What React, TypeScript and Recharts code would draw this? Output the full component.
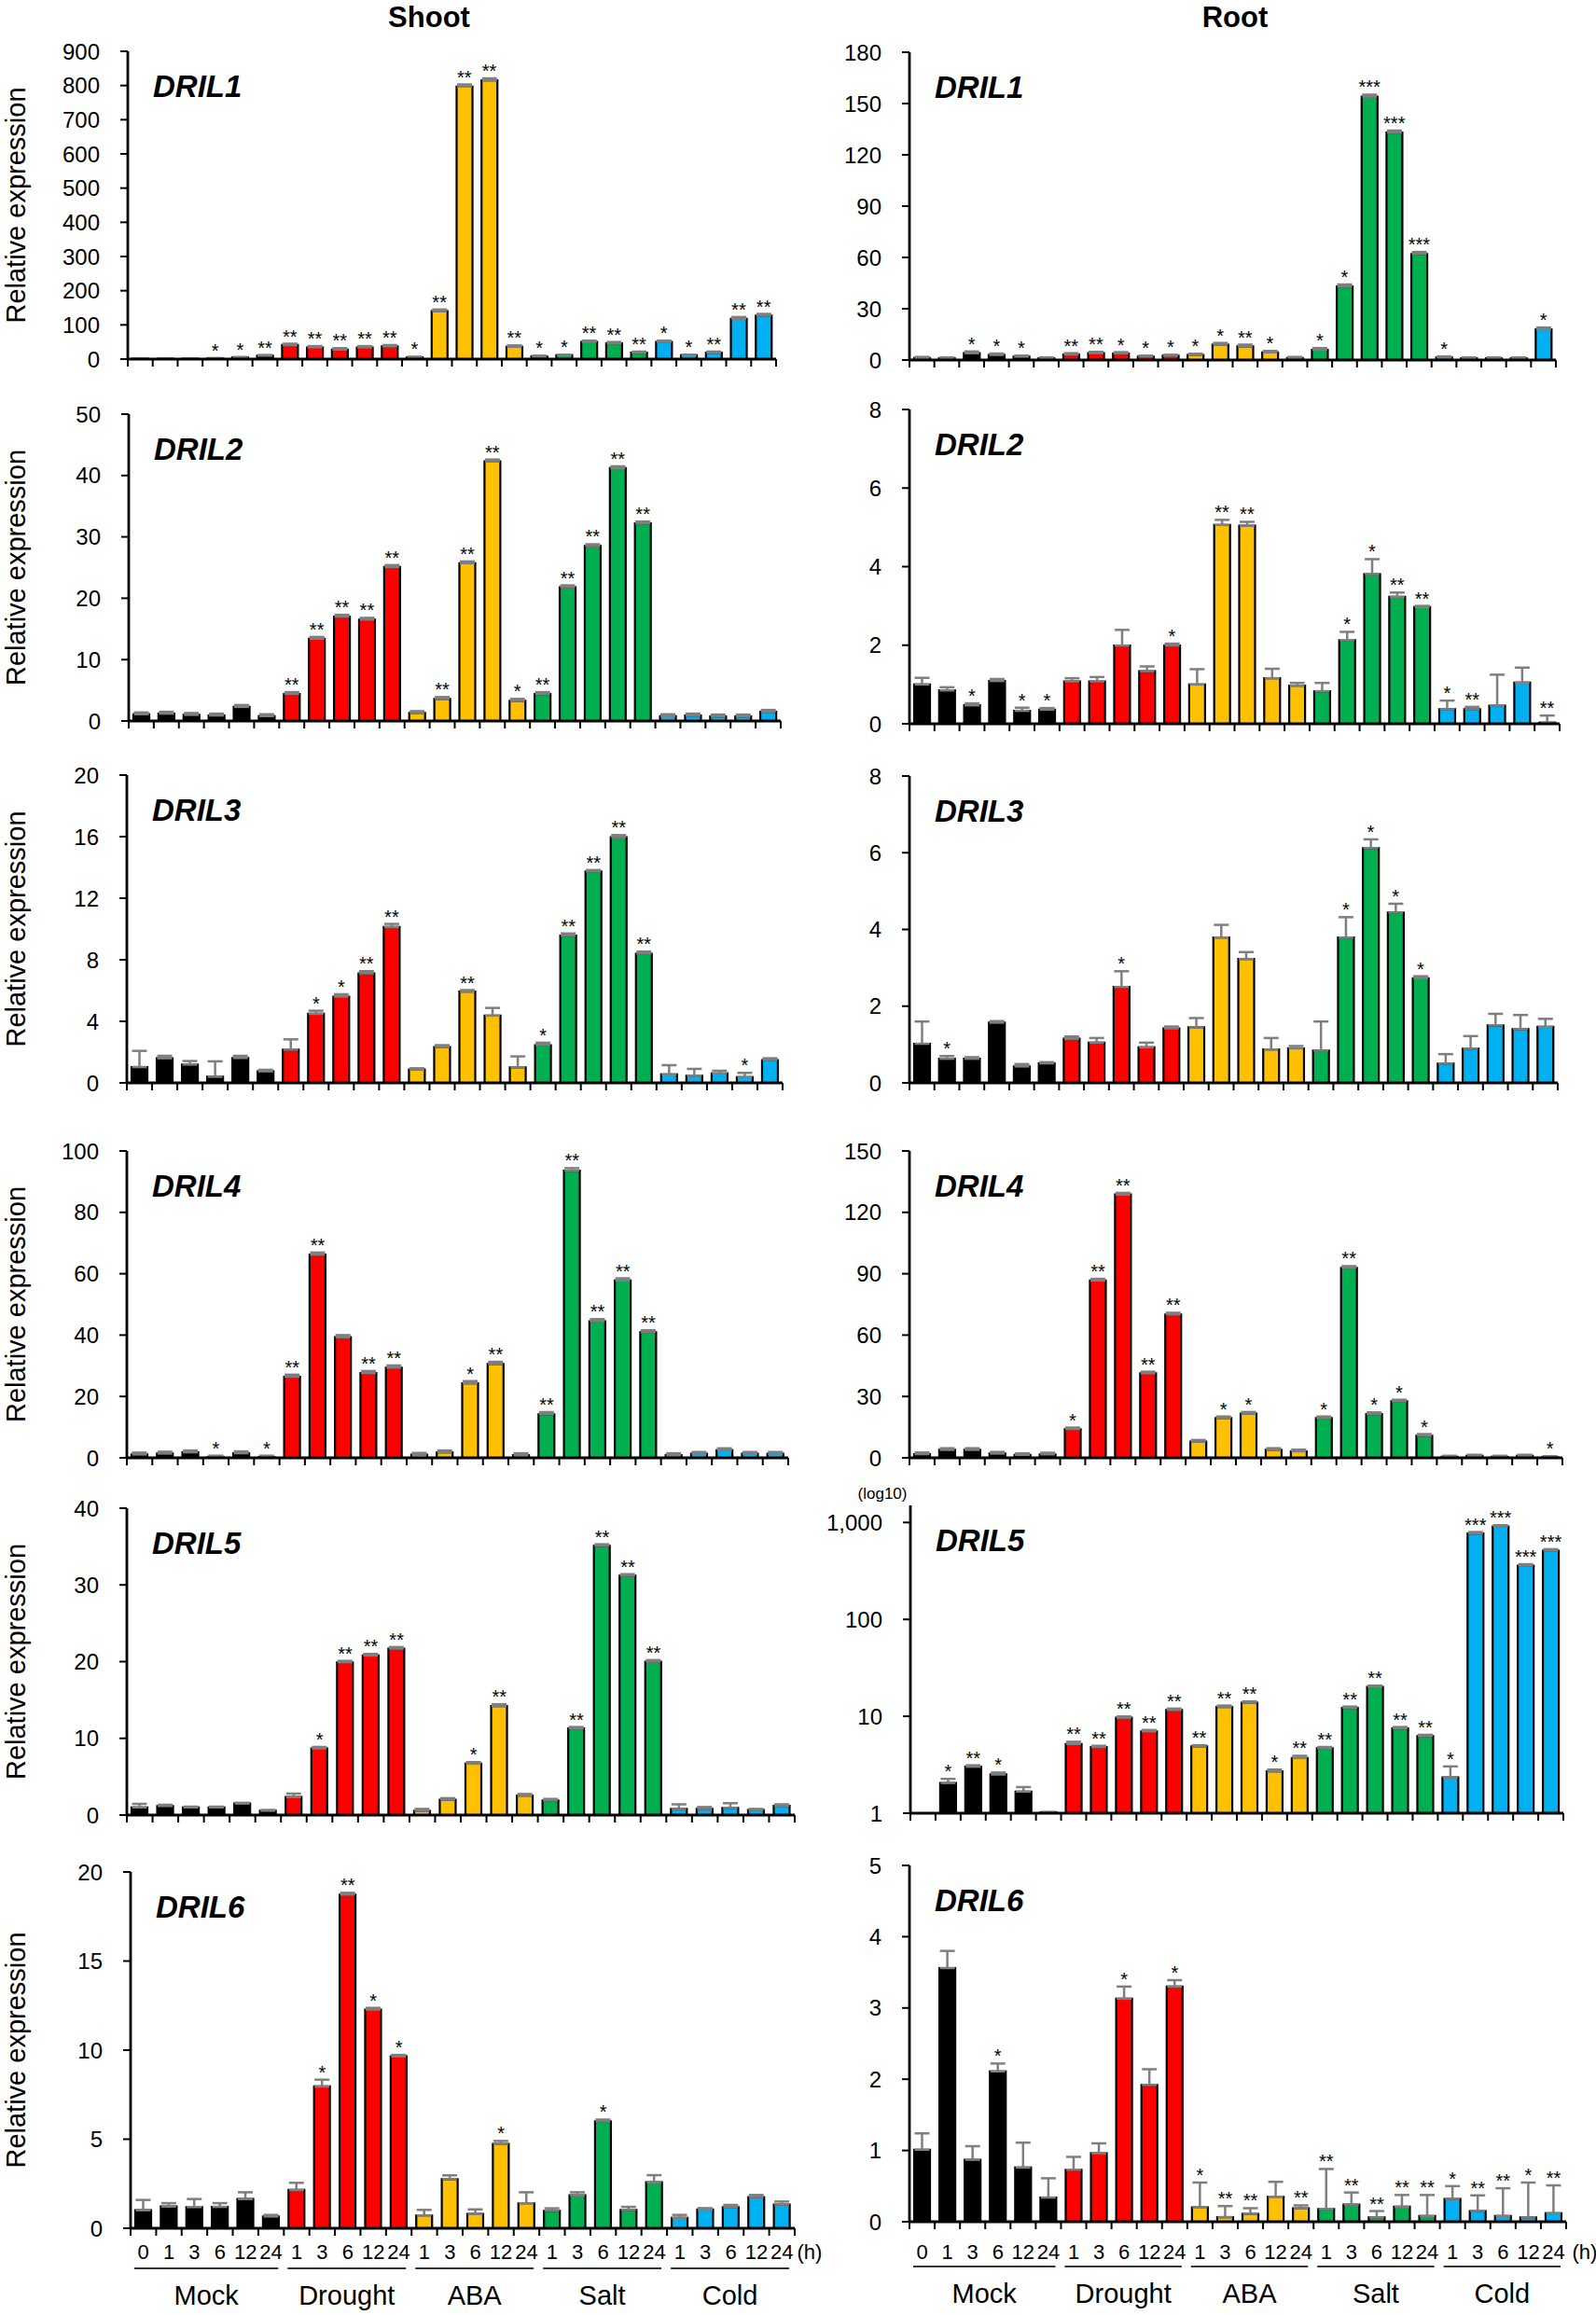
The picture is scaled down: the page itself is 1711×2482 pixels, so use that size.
import React from 'react';
import { ComposedChart, Bar, Cell, ErrorBar, Line, LabelList, XAxis, YAxis } from 'recharts';

// treatments and sampling hours
const GROUPS = ['Mock', 'Drought', 'ABA', 'Salt', 'Cold'];
const GROUP_HOURS = [
  ['0', '1', '3', '6', '12', '24'],
  ['1', '3', '6', '12', '24'],
  ['1', '3', '6', '12', '24'],
  ['1', '3', '6', '12', '24'],
  ['1', '3', '6', '12', '24'],
];
const GROUP_COLORS = ['#000000', '#FF0000', '#FFC000', '#00B050', '#00B0F0'];

const HOURS = GROUP_HOURS.flat();
const CATEGORIES = GROUP_HOURS.flatMap((hs, g) => hs.map((h) => `${GROUPS[g]} ${h}`));
const BAR_GROUP = GROUP_HOURS.flatMap((hs, g) => hs.map(() => g));

// ---- Shoot ----
const shootDril1 = [1, 1, 1, 2, 5, 10, 41, 34, 28, 34, 37, 5, 140, 797, 815, 36, 8, 11, 50, 46, 19, 50, 11, 19, 118, 127];
const shootDril1Err = [1, 1, 1, 1, 1, 2, 4, 4, 4, 4, 4, 2, 5, 6, 6, 4, 2, 2, 4, 4, 3, 4, 2, 3, 5, 5];
const shootDril1Sig = ['', '', '', '*', '*', '**', '**', '**', '**', '**', '**', '*', '**', '**', '**', '**', '*', '*', '**', '**', '**', '*', '*', '**', '**', '**'];

const shootDril2 = [1.1, 1.2, 1.0, 0.9, 2.3, 0.8, 4.4, 13.4, 17.0, 16.5, 25.1, 1.3, 3.6, 25.7, 42.3, 3.3, 4.4, 21.8, 28.5, 41.2, 32.2, 0.8, 0.9, 0.75, 0.75, 1.5];
const shootDril2Err = [0.3, 0.3, 0.3, 0.3, 0.3, 0.3, 0.3, 0.3, 0.3, 0.3, 0.3, 0.3, 0.3, 0.3, 0.3, 0.3, 0.3, 0.3, 0.3, 0.3, 0.3, 0.3, 0.3, 0.3, 0.3, 0.3];
const shootDril2Sig = ['', '', '', '', '', '', '**', '**', '**', '**', '**', '', '**', '**', '**', '*', '**', '**', '**', '**', '**', '', '', '', '', ''];

const shootDril3 = [1.03, 1.6, 1.19, 0.4, 1.62, 0.75, 2.16, 4.49, 5.6, 7.12, 10.13, 0.87, 2.33, 5.93, 4.37, 1.01, 2.45, 9.57, 13.73, 15.96, 8.39, 0.55, 0.47, 0.61, 0.38, 1.48];
const shootDril3Err = [1.05, 0.16, 0.23, 1.0, 0.14, 0.1, 0.67, 0.2, 0.16, 0.14, 0.2, 0.08, 0.12, 0.1, 0.5, 0.71, 0.16, 0.14, 0.1, 0.14, 0.14, 0.6, 0.44, 0.18, 0.27, 0.12];
const shootDril3Sig = ['', '', '', '', '', '', '', '*', '*', '**', '**', '', '', '**', '', '', '*', '**', '**', '**', '**', '', '', '', '*', ''];

const shootDril4 = [1.1, 1.4, 1.8, 0.3, 1.5, 0.3, 26.4, 66.2, 39.3, 27.6, 29.4, 1.0, 1.8, 24.3, 30.6, 0.9, 14.2, 93.6, 44.5, 57.8, 40.9, 0.9, 1.3, 2.5, 1.3, 1.3];
const shootDril4Err = [0.6, 0.6, 0.6, 0.4, 0.6, 0.4, 0.7, 0.7, 0.7, 0.7, 0.7, 0.6, 0.6, 0.7, 0.7, 0.6, 0.7, 0.8, 0.7, 0.7, 0.7, 0.6, 0.6, 0.6, 0.6, 0.6];
const shootDril4Sig = ['', '', '', '*', '', '*', '**', '**', '', '**', '**', '', '', '*', '**', '', '**', '**', '**', '**', '**', '', '', '', '', ''];

const shootDril5 = [1.0, 1.18, 1.0, 1.0, 1.5, 0.57, 2.35, 8.68, 19.9, 20.8, 21.7, 0.53, 2.0, 6.7, 14.2, 2.55, 1.9, 11.28, 35.1, 31.2, 20.0, 0.8, 0.8, 0.93, 0.65, 1.2];
const shootDril5Err = [0.46, 0.16, 0.1, 0.1, 0.1, 0.1, 0.45, 0.2, 0.2, 0.2, 0.2, 0.27, 0.2, 0.2, 0.25, 0.2, 0.2, 0.2, 0.2, 0.2, 0.2, 0.6, 0.25, 0.62, 0.15, 0.2];
const shootDril5Sig = ['', '', '', '', '', '', '', '*', '**', '**', '**', '', '', '*', '**', '', '', '**', '**', '**', '**', '', '', '', '', ''];

const shootDril6 = [1.01, 1.22, 1.19, 1.2, 1.64, 0.66, 2.15, 7.96, 18.73, 12.27, 9.65, 0.72, 2.76, 0.8, 4.73, 1.4, 0.98, 1.85, 6.0, 1.03, 2.58, 0.59, 1.05, 1.19, 1.75, 1.33];
const shootDril6Err = [0.58, 0.19, 0.45, 0.21, 0.38, 0.09, 0.4, 0.38, 0.1, 0.1, 0.08, 0.31, 0.21, 0.26, 0.17, 0.62, 0.14, 0.17, 0.1, 0.17, 0.4, 0.16, 0.08, 0.12, 0.12, 0.17];
const shootDril6Sig = ['', '', '', '', '', '', '', '*', '**', '*', '*', '', '', '', '*', '', '', '', '*', '', '', '', '', '', '', ''];

// ---- Root ----
const rootDril1 = [1.2, 1, 4, 3, 2, 1, 3.2, 4, 3.8, 2, 2.5, 3, 9, 8, 4.5, 1.2, 6, 43, 154, 133, 62, 1.5, 1, 1, 1, 18];
const rootDril1Err = [0.6, 0.5, 1, 0.8, 0.6, 0.5, 0.8, 0.8, 0.8, 0.6, 0.6, 0.7, 1, 1, 0.8, 0.6, 1, 1.2, 1.2, 1.2, 1.2, 0.6, 0.5, 0.5, 0.5, 1];
const rootDril1Sig = ['', '', '*', '*', '*', '', '**', '**', '*', '*', '*', '*', '*', '**', '*', '', '*', '*', '***', '***', '***', '*', '', '', '', '*'];

const rootDril2 = [1.0, 0.85, 0.47, 1.09, 0.33, 0.36, 1.08, 1.08, 1.99, 1.34, 1.99, 1.0, 5.06, 5.04, 1.16, 0.97, 0.83, 2.13, 3.81, 3.23, 2.97, 0.37, 0.37, 0.46, 1.05, 0.03];
const rootDril2Err = [0.17, 0.08, 0.05, 0.05, 0.08, 0.04, 0.08, 0.11, 0.4, 0.12, 0.05, 0.39, 0.13, 0.1, 0.24, 0.07, 0.21, 0.21, 0.38, 0.11, 0.03, 0.22, 0.06, 0.79, 0.38, 0.18];
const rootDril2Sig = ['', '', '*', '', '*', '*', '', '', '', '', '*', '', '**', '**', '', '', '', '*', '*', '**', '**', '*', '**', '', '', '**'];

const rootDril3 = [1.02, 0.63, 0.63, 1.57, 0.43, 0.51, 1.15, 1.05, 2.5, 0.93, 1.42, 1.45, 3.79, 3.23, 0.87, 0.9, 0.84, 3.79, 6.12, 4.44, 2.73, 0.5, 0.89, 1.5, 1.4, 1.46];
const rootDril3Err = [0.58, 0.07, 0.04, 0.04, 0.06, 0.03, 0.06, 0.12, 0.41, 0.12, 0.05, 0.24, 0.33, 0.18, 0.3, 0.06, 0.76, 0.53, 0.23, 0.23, 0.05, 0.25, 0.33, 0.3, 0.37, 0.21];
const rootDril3Sig = ['', '*', '', '', '', '', '', '', '*', '', '', '', '', '', '', '', '', '*', '*', '*', '*', '', '', '', '', ''];

const rootDril4 = [1.8, 3.9, 3.9, 2.1, 1.4, 1.7, 14.0, 86.7, 128.7, 41.3, 70.1, 7.9, 19.4, 21.6, 3.9, 3.2, 19.4, 92.9, 21.4, 27.6, 10.8, 0.5, 1.0, 0.5, 1.0, 0.3];
const rootDril4Err = [0.8, 0.8, 0.8, 0.8, 0.8, 0.8, 0.8, 0.8, 0.8, 0.8, 0.8, 0.8, 0.8, 0.8, 0.8, 0.8, 0.8, 0.8, 0.8, 0.8, 0.8, 0.5, 0.5, 0.5, 0.5, 0.5];
const rootDril4Sig = ['', '', '', '', '', '', '*', '**', '**', '**', '**', '', '*', '*', '', '', '*', '**', '*', '*', '*', '', '', '', '', '*'];

const rootDril5 = [1.0, 2.05, 3.02, 2.51, 1.67, 1.02, 5.18, 4.81, 9.66, 6.97, 11.6, 4.88, 12.5, 13.8, 2.7, 3.71, 4.67, 12.2, 20.1, 7.5, 6.24, 2.34, 771, 907, 359, 512];
const rootDril5Err = [0.43, 0.21, 0.1, 0.12, 0.19, 0.01, 0.28, 0.15, 0.3, 0.25, 0.4, 0.15, 0.4, 0.45, 0.12, 0.2, 0.15, 0.4, 0.6, 0.25, 0.2, 0.7, 25, 30, 12, 18];
const rootDril5Sig = ['', '*', '**', '*', '', '', '**', '**', '**', '**', '**', '**', '**', '**', '*', '**', '**', '**', '**', '**', '**', '*', '***', '***', '***', '***'];

const rootDril6 = [1.01, 3.56, 0.87, 2.11, 0.76, 0.34, 0.73, 0.96, 3.13, 1.92, 3.3, 0.2, 0.065, 0.11, 0.35, 0.19, 0.18, 0.24, 0.06, 0.21, 0.08, 0.32, 0.15, 0.08, 0.06, 0.12];
const rootDril6Err = [0.23, 0.24, 0.19, 0.11, 0.35, 0.27, 0.18, 0.14, 0.17, 0.22, 0.09, 0.35, 0.155, 0.08, 0.21, 0.04, 0.56, 0.17, 0.09, 0.165, 0.295, 0.18, 0.22, 0.39, 0.49, 0.39];
const rootDril6Sig = ['', '', '', '*', '', '', '', '', '*', '', '*', '*', '**', '**', '', '**', '**', '**', '**', '**', '**', '*', '**', '**', '*', '**'];

// y-axis ticks
const shootTicks1 = [0, 100, 200, 300, 400, 500, 600, 700, 800, 900];
const shootTicks2 = [0, 10, 20, 30, 40, 50];
const shootTicks3 = [0, 4, 8, 12, 16, 20];
const shootTicks4 = [0, 20, 40, 60, 80, 100];
const shootTicks5 = [0, 10, 20, 30, 40];
const shootTicks6 = [0, 5, 10, 15, 20];
const rootTicks1 = [0, 30, 60, 90, 120, 150, 180];
const rootTicks2 = [0, 2, 4, 6, 8];
const rootTicks3 = [0, 2, 4, 6, 8];
const rootTicks4 = [0, 30, 60, 90, 120, 150];
const rootTicks5 = [1, 10, 100, 1000];
const rootTicks6 = [0, 1, 2, 3, 4, 5];
const LOG_TOP = 1500;

type PanelData = {
  gene: string;
  values: number[];
  err: number[];
  sig: string[];
  ticks: number[];
  log?: boolean;
};

const SHOOT: PanelData[] = [
  { gene: 'DRIL1', values: shootDril1, err: shootDril1Err, sig: shootDril1Sig, ticks: shootTicks1 },
  { gene: 'DRIL2', values: shootDril2, err: shootDril2Err, sig: shootDril2Sig, ticks: shootTicks2 },
  { gene: 'DRIL3', values: shootDril3, err: shootDril3Err, sig: shootDril3Sig, ticks: shootTicks3 },
  { gene: 'DRIL4', values: shootDril4, err: shootDril4Err, sig: shootDril4Sig, ticks: shootTicks4 },
  { gene: 'DRIL5', values: shootDril5, err: shootDril5Err, sig: shootDril5Sig, ticks: shootTicks5 },
  { gene: 'DRIL6', values: shootDril6, err: shootDril6Err, sig: shootDril6Sig, ticks: shootTicks6 },
];

const ROOT: PanelData[] = [
  { gene: 'DRIL1', values: rootDril1, err: rootDril1Err, sig: rootDril1Sig, ticks: rootTicks1 },
  { gene: 'DRIL2', values: rootDril2, err: rootDril2Err, sig: rootDril2Sig, ticks: rootTicks2 },
  { gene: 'DRIL3', values: rootDril3, err: rootDril3Err, sig: rootDril3Sig, ticks: rootTicks3 },
  { gene: 'DRIL4', values: rootDril4, err: rootDril4Err, sig: rootDril4Sig, ticks: rootTicks4 },
  { gene: 'DRIL5', values: rootDril5, err: rootDril5Err, sig: rootDril5Sig, ticks: rootTicks5, log: true },
  { gene: 'DRIL6', values: rootDril6, err: rootDril6Err, sig: rootDril6Sig, ticks: rootTicks6 },
];

// plot boxes [left, right, top, bottom] in page pixels
const SHOOT_BOXES = [
  [137, 832, 55, 385],
  [138, 837, 444, 773],
  [136, 839, 831, 1161],
  [136, 845, 1234, 1563],
  [136, 852, 1617, 1946],
  [140, 852, 2007, 2389],
];
const ROOT_BOXES = [
  [975, 1668, 56, 386],
  [975, 1672, 439, 776],
  [975, 1670, 832, 1161],
  [975, 1675, 1234, 1563],
  [976, 1676, 1614, 1944],
  [975, 1679, 2000, 2382],
];

const FONT = '"Liberation Sans", Arial, sans-serif';
const HOUR_BASELINE = 2422;

function BandTick(props: any) {
  const { x, y, index, bw, count, showLabel, labelDy } = props;
  const half = bw / 2;
  return (
    <g>
      <line x1={x - half} x2={x - half} y1={y} y2={y + 8} stroke="#000" strokeWidth={2} />
      {index === count - 1 ? (
        <line x1={x + half} x2={x + half} y1={y} y2={y + 8} stroke="#000" strokeWidth={2} />
      ) : null}
      {showLabel ? (
        <text x={x} y={y + labelDy} textAnchor="middle" fontSize={22} fontFamily={FONT} fill="#000">
          {HOURS[index]}
        </text>
      ) : null}
    </g>
  );
}

function Panel({ panel, box, bottom }: { panel: PanelData; box: number[]; bottom: boolean }) {
  const [L, R, T, B] = box;
  const padL = 100;
  const padT = 24;
  const padR = 24;
  const xh = bottom ? 50 : 14;
  const n = panel.values.length;
  const bw = (R - L) / n;
  const rows = panel.values.map((v, i) => ({
    key: CATEGORIES[i],
    v,
    e: [0, panel.err[i]],
    top: v + panel.err[i],
    sig: panel.sig[i],
  }));
  const domain = panel.log ? [1, LOG_TOP] : [panel.ticks[0], panel.ticks[panel.ticks.length - 1]];
  const frame = { stroke: '#000', strokeWidth: 2.8 };

  return (
    <div style={{ position: 'absolute', left: L - padL, top: T - padT }}>
      <ComposedChart
        width={R - L + padL + padR}
        height={B - T + padT + xh}
        data={rows}
        margin={{ top: padT, right: padR, bottom: 0, left: 0 }}
      >
        <XAxis
          dataKey="key"
          interval={0}
          height={xh}
          axisLine={frame}
          tickLine={false}
          tickSize={0}
          tickMargin={0}
          tick={<BandTick bw={bw} count={n} showLabel={bottom} labelDy={HOUR_BASELINE - B} />}
        />
        <XAxis xAxisId="top" orientation="top" dataKey="key" height={0} tick={false} tickLine={false} axisLine={frame} />
        <YAxis
          type="number"
          scale={panel.log ? 'log' : 'linear'}
          domain={domain}
          ticks={panel.ticks}
          interval={0}
          allowDataOverflow
          width={padL}
          axisLine={frame}
          tickLine={{ stroke: '#000', strokeWidth: 2 }}
          tickSize={8}
          tickMargin={22}
          tick={{ fontSize: 24, fill: '#000', fontFamily: FONT }}
          tickFormatter={(v: number) => Number(v).toLocaleString('en-US')}
        />
        <YAxis yAxisId="right" orientation="right" type="number" domain={[0, 1]} width={0} tick={false} tickLine={false} axisLine={frame} />
        <Bar dataKey="v" barSize={17} stroke="#000" strokeWidth={2.2} isAnimationActive={false}>
          {rows.map((r, i) => (
            <Cell key={r.key} fill={GROUP_COLORS[BAR_GROUP[i]]} />
          ))}
          <ErrorBar dataKey="e" width={8} stroke="#7F7F7F" strokeWidth={2.5} />
        </Bar>
        <Line dataKey="top" stroke="none" dot={false} activeDot={false} legendType="none" isAnimationActive={false}>
          <LabelList dataKey="sig" position="top" offset={1} fontSize={20} fill="#000" fontFamily={FONT} />
        </Line>
      </ComposedChart>
    </div>
  );
}

function groupSpans(box: number[]) {
  const [L, R] = box;
  const bw = (R - L) / HOURS.length;
  let start = 0;
  return GROUP_HOURS.map((hs, g) => {
    const x1 = L + start * bw + 4;
    const x2 = L + (start + hs.length) * bw - 6;
    start += hs.length;
    return { name: GROUPS[g], x1, x2 };
  });
}

export default function App() {
  const shootLast = SHOOT_BOXES[SHOOT_BOXES.length - 1];
  const rootLast = ROOT_BOXES[ROOT_BOXES.length - 1];
  const bottoms = [
    { box: shootLast, lineY: 2432, nameY: 2471, hX: 868 },
    { box: rootLast, lineY: 2430, nameY: 2469, hX: 1699 },
  ];

  return (
    <div style={{ position: 'absolute', left: 0, top: 0, width: 1711, height: 2482, background: '#fff', overflow: 'hidden' }}>
      {SHOOT.map((p, i) => (
        <Panel key={`s${i}`} panel={p} box={SHOOT_BOXES[i]} bottom={i === SHOOT.length - 1} />
      ))}
      {ROOT.map((p, i) => (
        <Panel key={`r${i}`} panel={p} box={ROOT_BOXES[i]} bottom={i === ROOT.length - 1} />
      ))}
      <svg width={1711} height={2482} style={{ position: 'absolute', left: 0, top: 0, pointerEvents: 'none' }}>
        <text x={460} y={29} textAnchor="middle" fontSize={31} fontWeight="bold" fontFamily={FONT}>Shoot</text>
        <text x={1324} y={29} textAnchor="middle" fontSize={31} fontWeight="bold" fontFamily={FONT}>Root</text>
        {SHOOT_BOXES.map((b, i) => (
          <text key={`yl${i}`} transform={`translate(27,${(b[2] + b[3]) / 2}) rotate(-90)`} textAnchor="middle" fontSize={29} fontFamily={FONT}>
            Relative expression
          </text>
        ))}
        {SHOOT.map((p, i) => (
          <text key={`gs${i}`} x={SHOOT_BOXES[i][0] + 27} y={SHOOT_BOXES[i][2] + 49} fontSize={33} fontWeight="bold" fontStyle="italic" fontFamily={FONT}>
            {p.gene}
          </text>
        ))}
        {ROOT.map((p, i) => (
          <text key={`gr${i}`} x={ROOT_BOXES[i][0] + 27} y={ROOT_BOXES[i][2] + 49} fontSize={33} fontWeight="bold" fontStyle="italic" fontFamily={FONT}>
            {p.gene}
          </text>
        ))}
        <text x={946} y={1607} textAnchor="middle" fontSize={17} fontFamily={FONT}>(log10)</text>
        {bottoms.map((bt, k) => (
          <g key={`bt${k}`}>
            <text x={bt.hX} y={HOUR_BASELINE} textAnchor="middle" fontSize={22} fontFamily={FONT}>(h)</text>
            {groupSpans(bt.box).map((s) => (
              <g key={s.name}>
                <line x1={s.x1} x2={s.x2} y1={bt.lineY} y2={bt.lineY} stroke="#333" strokeWidth={2} />
                <text x={(s.x1 + s.x2) / 2} y={bt.nameY} textAnchor="middle" fontSize={29} fontFamily={FONT}>
                  {s.name}
                </text>
              </g>
            ))}
          </g>
        ))}
      </svg>
    </div>
  );
}
